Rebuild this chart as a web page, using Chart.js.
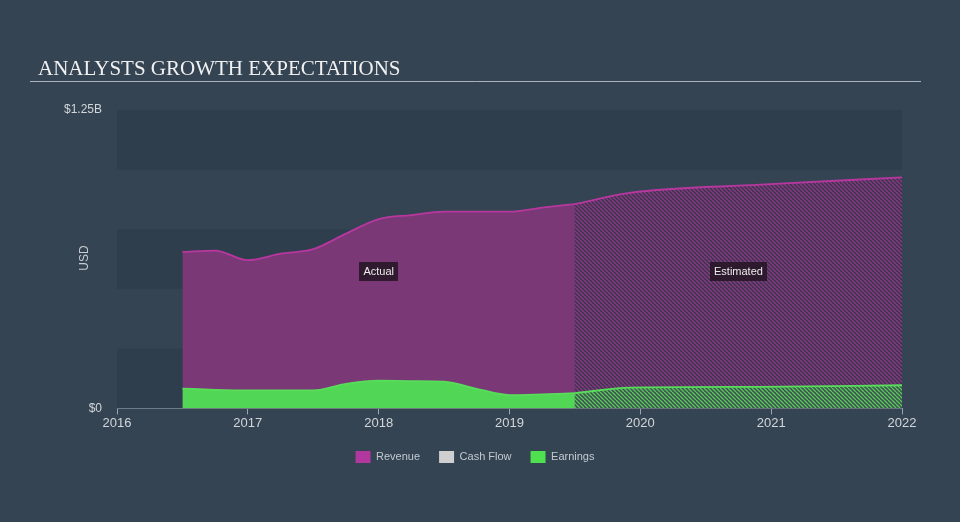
<!DOCTYPE html>
<html>
<head>
<meta charset="utf-8">
<script src="https://cdn.jsdelivr.net/npm/chart.js@4.4.1/dist/chart.umd.min.js"></script>
<style>
    html, body { margin: 0; padding: 0; background: #344453; }
    #wrap { width: 960px; height: 522px; }
</style>
</head>
<body>
<div id="wrap"><canvas id="grafico"></canvas></div>
<script>
// ======================== DADOS ========================
const anosReais = [2016.5, 2016.75, 2017, 2017.25, 2017.5, 2017.75, 2018, 2018.25, 2018.5, 2018.75, 2019, 2019.25, 2019.5];
const receitaReal = [0.656, 0.661, 0.621, 0.648, 0.667, 0.732, 0.793, 0.810, 0.824, 0.824, 0.824, 0.841, 0.856];
const lucroReal = [0.083, 0.078, 0.0755, 0.0755, 0.0755, 0.103, 0.116, 0.1145, 0.112, 0.082, 0.0558, 0.059, 0.0637];

const anosEstimados = [2019.5, 2019.92, 2020.92, 2022];
const receitaEstimada = [0.856, 0.903, 0.937, 0.968];
const lucroEstimado = [0.0637, 0.087, 0.090, 0.097];

const yTicks = [0, 1.25];
const yTickLabels = ['$0', '$1.25B'];
const legendaNomes = ['Revenue', 'Cash Flow', 'Earnings'];
const legendaCores = ['#b2379f', '#cfcfcf', '#4fe04f'];

// ======================== AUXILIARES ========================
function pontos(xs, ys) {
    return xs.map((x, i) => ({ x: x, y: ys[i] }));
}

function hachura(fundo, linha) {
    const s = 4;
    const c = document.createElement('canvas');
    c.width = s;
    c.height = s;
    const ctx = c.getContext('2d');
    ctx.fillStyle = fundo;
    ctx.fillRect(0, 0, s, s);
    ctx.strokeStyle = linha;
    ctx.lineWidth = 1.3;
    ctx.beginPath();
    for (let k = -s; k <= s; k += s) {
        ctx.moveTo(k, 0);
        ctx.lineTo(k + s, s);
    }
    ctx.stroke();
    return ctx.createPattern(c, 'repeat');
}

const faixasPlugin = {
    id: 'faixas',
    beforeDatasetsDraw(chart) {
        const { ctx, chartArea, scales } = chart;
        const y = scales.y;
        ctx.save();
        ctx.fillStyle = '#2f3e4c';
        [[0, 0.25], [0.5, 0.75], [1.0, 1.25]].forEach(([a, b]) => {
            const top = y.getPixelForValue(b);
            const bot = y.getPixelForValue(a);
            ctx.fillRect(chartArea.left, top, chartArea.right - chartArea.left, bot - top);
        });
        ctx.restore();
    },
};

function caixaTexto(ctx, texto, cx, cy) {
    ctx.font = '11px "Liberation Sans", Arial, sans-serif';
    const w = ctx.measureText(texto).width + 8;
    const h = 19;
    ctx.fillStyle = 'rgba(38, 22, 38, 0.88)';
    ctx.fillRect(Math.round(cx - w / 2), Math.round(cy - h / 2), Math.round(w), h);
    ctx.fillStyle = '#ececec';
    ctx.textAlign = 'center';
    ctx.textBaseline = 'middle';
    ctx.fillText(texto, cx, cy + 0.5);
}

const textosPlugin = {
    id: 'textos',
    afterDraw(chart) {
        const { ctx, chartArea, scales } = chart;
        const x = scales.x;
        ctx.save();
        // titulo
        ctx.font = '21px "Liberation Serif", "Times New Roman", serif';
        ctx.fillStyle = '#f0f0f0';
        ctx.textAlign = 'left';
        ctx.textBaseline = 'alphabetic';
        ctx.fillText('ANALYSTS GROWTH EXPECTATIONS', 38, 75);
        ctx.strokeStyle = '#aab3bc';
        ctx.lineWidth = 1;
        ctx.beginPath();
        ctx.moveTo(30, 81.5);
        ctx.lineTo(921, 81.5);
        ctx.stroke();
        // USD
        ctx.save();
        ctx.translate(85, 258);
        ctx.rotate(-Math.PI / 2);
        ctx.font = '12px "Liberation Sans", Arial, sans-serif';
        ctx.fillStyle = '#c8cdd2';
        ctx.textAlign = 'center';
        ctx.textBaseline = 'middle';
        ctx.fillText('USD', 0, 0);
        ctx.restore();
        // Actual / Estimated
        const cy = chartArea.top + (chartArea.bottom - chartArea.top) * 0.54;
        const meioReal = (x.getPixelForValue(anosReais[0]) + x.getPixelForValue(anosReais[anosReais.length - 1])) / 2;
        const meioEst = (x.getPixelForValue(anosEstimados[0]) + x.getPixelForValue(anosEstimados[anosEstimados.length - 1])) / 2;
        caixaTexto(ctx, 'Actual', meioReal, cy);
        caixaTexto(ctx, 'Estimated', meioEst, cy);
        ctx.restore();
    },
};

// ======================== GRAFICO ========================
const linhaComum = {
    fill: 'origin',
    pointRadius: 0,
    borderWidth: 1.8,
    cubicInterpolationMode: 'monotone',
};

new Chart(document.getElementById('grafico'), {
    type: 'line',
    data: {
        datasets: [
            {
                ...linhaComum,
                label: 'Revenue',
                data: pontos(anosReais, receitaReal),
                borderColor: '#b8379f',
                backgroundColor: '#7b3877',
                order: 3,
            },
            {
                ...linhaComum,
                label: 'Cash Flow',
                data: [],
                borderColor: '#cfcfcf',
                backgroundColor: '#cfcfcf',
                order: 2,
            },
            {
                ...linhaComum,
                label: 'Earnings',
                data: pontos(anosReais, lucroReal),
                borderColor: '#58dd5a',
                backgroundColor: '#52d655',
                order: 0,
            },
            {
                ...linhaComum,
                label: '',
                data: pontos(anosEstimados, receitaEstimada),
                borderColor: '#b8379f',
                backgroundColor: hachura('#3f3550', '#8a3984'),
                order: 3,
            },
            {
                ...linhaComum,
                label: '',
                data: pontos(anosEstimados, lucroEstimado),
                borderColor: '#58dd5a',
                backgroundColor: hachura('#3d5652', '#5ac75c'),
                order: 0,
            },
        ],
    },
    options: {
        responsive: true,
        maintainAspectRatio: false,
        animation: false,
        layout: { padding: { top: 110, right: 10, left: 0, bottom: 49 } },
        scales: {
            x: {
                type: 'linear',
                min: 2016,
                max: 2022,
                ticks: {
                    stepSize: 1,
                    color: '#d2d6da',
                    font: { size: 13, family: '"Liberation Sans", Arial, sans-serif' },
                    padding: 1,
                    callback: (v) => String(v),
                },
                grid: { drawOnChartArea: false, color: '#9ba5af', tickLength: 6 },
                border: { color: '#9ba5af' },
            },
            y: {
                min: 0,
                max: 1.25,
                afterFit: (s) => { s.width = 117; },
                afterBuildTicks: (s) => { s.ticks = yTicks.map((v) => ({ value: v })); },
                ticks: {
                    color: '#d2d6da',
                    font: { size: 12, family: '"Liberation Sans", Arial, sans-serif' },
                    padding: 15,
                    callback: (v) => yTickLabels[yTicks.indexOf(v)],
                },
                grid: { display: false, drawTicks: false },
                border: { display: false },
            },
            // eixo vazio so para reservar a margem direita
            yDireita: {
                position: 'right',
                min: 0,
                max: 1.25,
                afterFit: (s) => { s.width = 48; },
                ticks: { display: false },
                grid: { display: false, drawTicks: false },
                border: { display: false },
            },
        },
        plugins: {
            tooltip: { enabled: false },
            legend: {
                position: 'bottom',
                labels: {
                    boxWidth: 15,
                    boxHeight: 12,
                    padding: 19,
                    color: '#c3c9cf',
                    font: { size: 11, family: '"Liberation Sans", Arial, sans-serif' },
                    generateLabels: () => legendaNomes.map((n, i) => ({
                        text: n,
                        fillStyle: legendaCores[i],
                        strokeStyle: legendaCores[i],
                        lineWidth: 0,
                        fontColor: '#c3c9cf',
                        datasetIndex: i,
                    })),
                },
            },
        },
    },
    plugins: [faixasPlugin, textosPlugin],
});
</script>
</body>
</html>
